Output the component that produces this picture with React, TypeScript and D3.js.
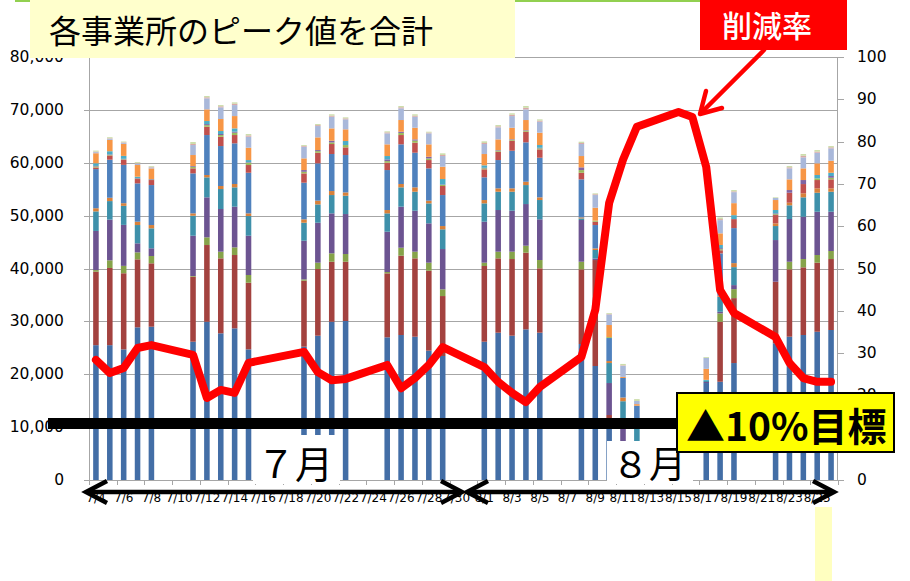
import React from 'react';
import * as d3 from 'd3';

// ---------- data ----------
const dates: string[] = [
  '7/4','7/5','7/6','7/7','7/8','7/9','7/10','7/11','7/12','7/13','7/14','7/15','7/16','7/17','7/18',
  '7/19','7/20','7/21','7/22','7/23','7/24','7/25','7/26','7/27','7/28','7/29','7/30','7/31',
  '8/1','8/2','8/3','8/4','8/5','8/6','8/7','8/8','8/9','8/10','8/11','8/12','8/13','8/14',
  '8/15','8/16','8/17','8/18','8/19','8/20','8/21','8/22','8/23','8/24','8/25','8/26'
];

const workDays: string[] = [
  '7/4','7/5','7/6','7/7','7/8','7/11','7/12','7/13','7/14','7/15','7/19','7/20','7/21','7/22',
  '7/25','7/26','7/27','7/28','7/29','8/1','8/2','8/3','8/4','8/5','8/8','8/9','8/10','8/11','8/12',
  '8/15','8/16','8/17','8/18','8/19','8/22','8/23','8/24','8/25','8/26'
];

const office01 = [25500,25500,24700,28870,28990,26150,29930,27740,28680,24710,25210,27290,29930,30070,26980,27420,27100,24460,23450,26150,27860,27290,28490,27860,25720,21560,11500,0,0,0,0,18340,18580,22120,25850,27100,27420,28040,28370];
const office02 = [13900,14600,14400,12860,11990,12300,14510,14180,13870,12600,12480,12610,11350,11210,12100,15000,14820,15120,11340,14320,14060,14500,14500,12170,14120,20040,790,0,0,0,0,0,11350,12280,11650,12740,12800,13060,13420];
const office03 = [300,1450,1400,1320,1380,130,1450,1260,1450,1460,250,1200,1590,1460,250,1510,1260,1520,1270,630,1260,1390,1320,1570,1440,0,0,0,0,0,0,0,1580,1700,0,1440,1570,1450,1520];
const office04 = [7400,7700,7750,1710,1460,7620,7570,8070,7690,7430,7310,7560,7560,7560,7630,7760,7750,7440,7620,7750,7880,7750,7880,7700,7890,300,6050,10000,0,0,0,200,300,760,7880,8080,8000,8190,7430];
const office05 = [3700,3500,3600,3460,3780,3780,3780,3780,3660,3720,3410,3460,3460,3460,3470,3660,3590,3780,3730,3470,3460,3590,3590,3650,300,1600,3780,4900,10000,0,0,200,2840,3400,2650,2590,3670,3590,3780];
const office06 = [600,630,500,630,620,450,440,570,630,510,640,710,760,630,630,630,830,510,620,630,640,640,630,510,200,300,380,700,0,0,0,0,200,760,510,490,760,830,640];
const office07 = [7400,7200,7250,7250,7560,7560,7560,7560,7690,7680,6930,7060,7000,7070,7560,7500,6550,6110,5860,4290,5350,7110,7450,7490,7190,4420,4350,3700,4050,0,0,0,8000,6620,0,0,0,0,0];
const office08 = [300,800,950,820,950,950,1570,1760,1570,1460,1760,2010,1890,1450,1390,1760,1890,1570,1710,1510,1580,1900,2010,1580,1250,630,0,0,0,0,0,0,600,1700,1570,1890,1750,1570,1700];
const office09 = [200,100,100,100,100,300,300,320,440,440,300,300,300,440,300,400,400,300,200,200,200,200,200,200,500,200,180,0,0,0,0,0,200,0,160,0,0,320,300];
const office10 = [100,100,100,100,100,140,200,200,200,100,330,200,330,0,330,230,230,330,100,100,100,100,100,100,520,0,0,0,0,0,0,0,200,0,160,510,760,0,330];
const office11 = [500,600,550,240,0,0,580,560,620,400,0,0,0,760,630,0,0,0,1020,460,0,0,0,520,0,0,0,0,0,0,0,200,600,750,630,0,0,630,620];
const office12 = [1900,2150,2270,2210,2000,2080,2210,2270,2330,2330,2210,2400,2330,2210,2210,2210,2200,2340,2330,2140,2030,2150,1910,2330,2140,2450,2280,200,300,0,0,2080,2200,2270,1890,2020,2210,2210,2270];
const office13 = [200,200,200,250,200,1890,2080,2210,2080,2080,2200,2140,2200,1890,2080,2210,2080,2080,2020,1890,2270,2210,2020,2080,2270,2390,2000,2100,600,0,0,2080,2500,2080,380,2080,2080,2010,2340];
const office14 = [100,100,100,100,100,200,200,200,250,250,150,180,200,180,180,200,200,150,200,200,200,250,300,200,200,150,100,100,0,0,0,0,200,150,0,200,300,200,200];
const office15 = [200,200,150,200,150,370,240,230,260,260,170,200,260,200,200,240,260,160,310,310,240,270,330,250,240,170,160,250,350,0,0,160,300,250,130,240,330,300,240];

// 削減率 (%)
const reductionRate = [28.4,25.3,26.5,31.2,31.9,29.6,19.4,21.3,20.6,27.7,30.3,25.5,23.6,23.9,27.2,21.7,24.1,27.2,31.4,26.7,23.2,20.6,18.4,22.0,29.1,40.2,65.5,75.7,83.5,87.0,85.8,74.0,44.9,39.5,33.8,27.7,24.1,23.2,23.2];

const leftTicks = [0,10000,20000,30000,40000,50000,60000,70000,80000];
const rightTicks = [0,10,20,30,40,50,60,70,80,90,100];

const seriesList = [office01,office02,office03,office04,office05,office06,office07,office08,office09,office10,office11,office12,office13,office14,office15];
const colors = ['#436EA6','#A3423F','#86A34A','#6C5491','#3E90AA','#D7803A','#4F81BD','#C0504D','#9BBB59','#8064A2','#4BACC6','#F79646','#A9B8DA','#D9A8A7','#CCDDAA'];

// ---------- layout ----------
const W = 910, H = 581;
const X0 = 89, X1 = 838, Y0 = 480, Y1 = 57;
const GRID = '#A6A6A6';
const NUM_FONT = 'DejaVu Sans, sans-serif';
const JP_FONT = '"Noto Sans CJK JP", sans-serif';

function chevron(tipX: number, tipY: number, dir: number, len: number, spread: number) {
  return `M${tipX - dir * len},${tipY - spread} L${tipX},${tipY} L${tipX - dir * len},${tipY + spread}`;
}

export default function App() {
  const x = d3.scaleBand<string>().domain(dates).range([X0, X1]).paddingInner(0.6).paddingOuter(0.3);
  const yL = d3.scaleLinear().domain([0, 80000]).range([Y0, Y1]);
  const yR = d3.scaleLinear().domain([0, 100]).range([Y0, Y1]);
  const bw = x.bandwidth();
  const step = x.step();
  const cx = (d: string) => (x(d) as number) + bw / 2;

  const keys = seriesList.map((_, k) => 's' + k);
  const table = workDays.map((d, i) => {
    const o: any = { date: d };
    seriesList.forEach((s, k) => { o['s' + k] = s[i]; });
    return o;
  });
  const stacked = d3.stack<any>().keys(keys)(table);

  const linePath = d3.line<number>()
    .x((_, i) => cx(workDays[i]))
    .y((v) => yR(v))(reductionRate) as string;

  const fmt = d3.format(',');
  const tickXs: number[] = [];
  for (let k = 0; k <= dates.length; k += 2) tickXs.push(X0 + k * step);

  return (
    <svg width={W} height={H} style={{ position: 'absolute', left: 0, top: 0, background: '#fff' }}>
      {/* gridlines */}
      {leftTicks.slice(1).map((t) => (
        <line key={'g' + t} x1={X0} x2={X1} y1={Math.round(yL(t)) + 0.5} y2={Math.round(yL(t)) + 0.5} stroke={GRID} strokeWidth={1} />
      ))}
      {/* left axis */}
      <line x1={X0 + 0.5} x2={X0 + 0.5} y1={Y1} y2={Y0} stroke={GRID} />
      {leftTicks.map((t) => (
        <line key={'lt' + t} x1={X0 - 5} x2={X0} y1={Math.round(yL(t)) + 0.5} y2={Math.round(yL(t)) + 0.5} stroke={GRID} />
      ))}
      {leftTicks.map((t) => (
        <text key={'ll' + t} x={64} y={yL(t)} textAnchor="end" dominantBaseline="central" fontFamily={NUM_FONT} fontSize={15.5} fill="#000">{fmt(t)}</text>
      ))}
      {/* right axis */}
      <line x1={X1 - 0.5} x2={X1 - 0.5} y1={Y1} y2={Y0} stroke={GRID} />
      {rightTicks.map((t) => (
        <line key={'rt' + t} x1={X1} x2={X1 + 6} y1={Math.round(yR(t)) + 0.5} y2={Math.round(yR(t)) + 0.5} stroke={GRID} />
      ))}
      {rightTicks.map((t) => (
        <text key={'rl' + t} x={857} y={yR(t)} textAnchor="start" dominantBaseline="central" fontFamily={NUM_FONT} fontSize={15.5} fill="#000">{t}</text>
      ))}
      {/* bottom axis */}
      <line x1={X0 - 5} x2={X1} y1={Y0 + 0.5} y2={Y0 + 0.5} stroke={GRID} />
      {tickXs.map((tx, i) => (
        <line key={'xt' + i} x1={Math.round(tx) + 0.5} x2={Math.round(tx) + 0.5} y1={Y0} y2={Y0 + 5} stroke={GRID} />
      ))}

      {/* stacked bars */}
      {stacked.map((layer, k) => (
        <g key={'layer' + k} fill={colors[k]}>
          {layer.map((p: any, i: number) => {
            const h = yL(p[0]) - yL(p[1]);
            if (h <= 0) return null;
            return <rect key={i} x={x(workDays[i])} y={yL(p[1])} width={bw} height={h} />;
          })}
        </g>
      ))}

      {/* x labels */}
      {dates.map((d, i) => (i % 2 === 0 ? (
        <text key={'xl' + d} x={cx(d)} y={502} textAnchor="middle" fontFamily={NUM_FONT} fontSize={12} fill="#000">{d}</text>
      ) : null))}

      {/* reduction rate line */}
      <path d={linePath} fill="none" stroke="#FF0000" strokeWidth={8} strokeLinejoin="round" strokeLinecap="round" />

      {/* target line */}
      <rect x={48} y={418} width={632} height={11} fill="#000" />

      {/* month boxes */}
      <rect x={253} y={435} width={87} height={49} fill="#fff" />
      <text x={257} y={461} dominantBaseline="central" fontFamily={JP_FONT} fontSize={38} fill="#000">７月</text>
      <rect x={607} y={441} width={86} height={43} fill="#fff" />
      <text x={612} y={462} dominantBaseline="central" fontFamily={JP_FONT} fontSize={37} fill="#000">８月</text>

      {/* target box */}
      <rect x={677} y={393} width={217} height={59} fill="#FFFF00" stroke="#000" strokeWidth={2} />
      <text x={686} y={424} dominantBaseline="central" fontFamily={JP_FONT} fontSize={39} fontWeight="bold" fill="#000">▲10%目標</text>

      {/* period arrows */}
      <g stroke="#000" strokeWidth={4.5} fill="none" strokeLinejoin="miter">
        <line x1={87} x2={461} y1={492} y2={492} />
        <path d={chevron(86, 492, -1, 21, 11)} />
        <path d={chevron(462, 492, 1, 21, 11)} />
        <line x1={468} x2={833} y1={492} y2={492} />
        <path d={chevron(467, 492, -1, 21, 11)} />
        <path d={chevron(834, 492, 1, 21, 11)} />
      </g>

      {/* pale marker */}
      <rect x={815} y={507} width={17} height={74} fill="#FFFFC0" />

      {/* top green line */}
      <rect x={15} y={0} width={685} height={2} fill="#92D050" />

      {/* title */}
      <rect x={30} y={0} width={485} height={58} fill="#FFFFCC" />
      <text x={49} y={29} dominantBaseline="central" fontFamily={JP_FONT} fontSize={32} fill="#000">各事業所のピーク値を合計</text>

      {/* reduction label */}
      <rect x={700} y={0} width={147} height={50} fill="#FF0000" />
      <text x={767} y={24} textAnchor="middle" dominantBaseline="central" fontFamily={JP_FONT} fontSize={30} fontWeight={500} fill="#fff">削減率</text>
      <g stroke="#FF0000" strokeWidth={4.5} fill="none" strokeLinecap="round" strokeLinejoin="round">
        <line x1={764} y1={50} x2={701} y2={113} />
        <path d="M706,91 L700,114 L722,108" />
      </g>
    </svg>
  );
}
